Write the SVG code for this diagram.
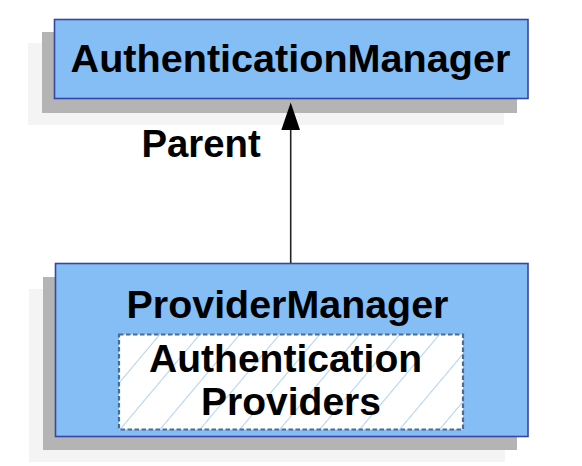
<svg xmlns="http://www.w3.org/2000/svg" width="582" height="466" viewBox="0 0 582 466">
  <style>
    .box { fill: #84bef5; stroke: #3a44a6; stroke-width: 1.6; }
    .sh1 { fill: #b4b4b4; }
    .sh2 { fill: #f4f4f4; }
    .lbl { font-family: "Liberation Sans", Arial, sans-serif; font-weight: bold; fill: #000; }
    .inner { fill: url(#hatch); stroke: #4a6a98; stroke-width: 2.2; stroke-dasharray: 4.5 2.5; }
    .edge { stroke: #222; stroke-width: 1.6; fill: none; }
  </style>
  <defs>
    <pattern id="hatch" patternUnits="userSpaceOnUse" width="30.6" height="40" patternTransform="translate(121.7,426.7) rotate(40)">
      <rect x="0" y="0" width="30.6" height="40" fill="#ffffff"/>
      <line x1="0" y1="-1" x2="0" y2="41" stroke="#96c2f0" stroke-width="1.5"/>
    </pattern>
  </defs>
  <rect width="582" height="466" fill="#ffffff"/>

  <g id="authenticationManager">
    <rect class="sh2" x="28" y="43" width="476" height="82"/>
    <rect class="sh1" x="42" y="32" width="475" height="81"/>
    <rect class="box" x="54.5" y="19.5" width="473.5" height="79"/>
    <text class="lbl" x="290.5" y="71.7" font-size="39.6" text-anchor="middle">AuthenticationManager</text>
  </g>

  <g id="providerManager">
    <rect class="sh2" x="29" y="289" width="476" height="173"/>
    <rect class="sh1" x="43" y="277" width="474" height="173"/>
    <rect class="box" x="55.5" y="263.5" width="472.5" height="173"/>
    <text class="lbl" x="287.5" y="318.3" font-size="39.4" text-anchor="middle">ProviderManager</text>
    <g id="authenticationProviders">
      <rect class="inner" x="119" y="334.5" width="344" height="95"/>
      <text class="lbl" font-size="39" text-anchor="middle">
        <tspan x="291" y="371.7">Authentication</tspan>
        <tspan x="291" y="415">Providers</tspan>
      </text>
    </g>
  </g>

  <g id="connectors">
    <path class="edge" d="M290.7 263 L290.7 130"/>
    <path d="M290.7 102.5 L300 130 L281.3 130 Z" fill="#000"/>
    <text class="lbl" x="141.5" y="156.7" font-size="38.3">Parent</text>
  </g>
</svg>
